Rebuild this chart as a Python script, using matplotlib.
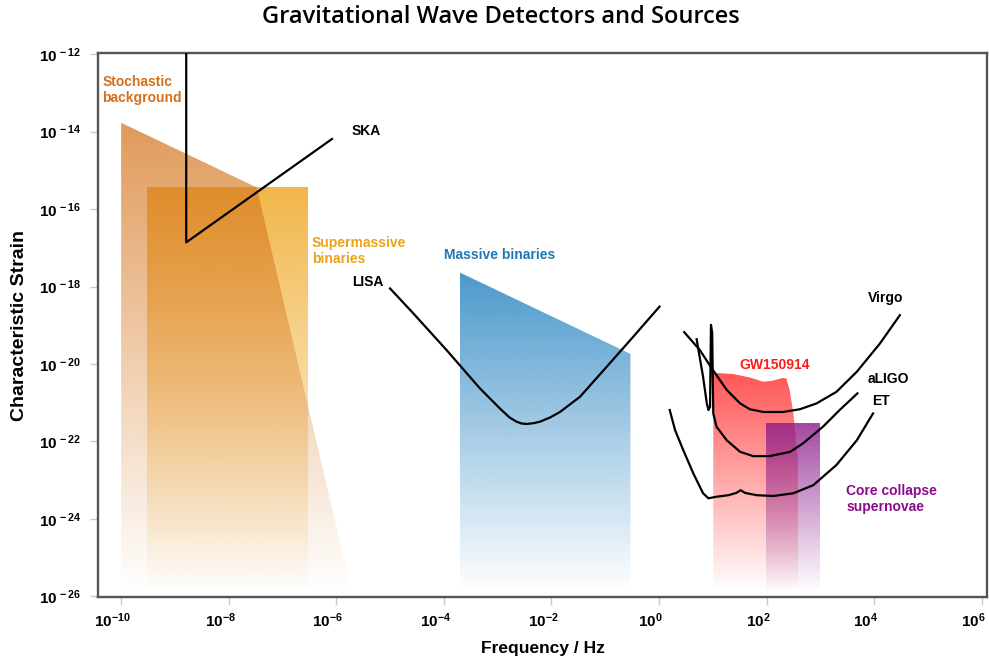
import numpy as np
import matplotlib
matplotlib.use('Agg')
import matplotlib.pyplot as plt
import matplotlib.transforms as mtransforms
from matplotlib.patches import Polygon
from matplotlib.colors import to_rgb

plt.rcParams['font.family'] = 'Liberation Sans'
plt.rcParams['mathtext.fontset'] = 'custom'
plt.rcParams['mathtext.rm'] = 'Liberation Sans:bold'
plt.rcParams['mathtext.it'] = 'Liberation Sans:bold'
plt.rcParams['mathtext.bf'] = 'Liberation Sans:bold'

# all values are log10(frequency / Hz) and log10(strain)
floor = -25.9

stoch_logf = [-10.0, -7.48, -5.71, -10.0]
stoch_logh = [-13.77, -15.44, floor, floor]

smbh_logf = [-9.51, -6.52, -6.52, -9.51]
smbh_logh = [-15.44, -15.44, floor, floor]

massive_logf = [-3.70, -0.53, -0.53, -3.70]
massive_logh = [-17.64, -19.74, floor, floor]

gw_logf = [1.01, 1.38, 1.69, 1.94, 2.12, 2.31, 2.37, 2.43, 2.50, 2.59, 2.59, 1.01]
gw_logh = [-20.23, -20.26, -20.35, -20.46, -20.43, -20.36, -20.38, -20.67, -21.28, -22.56, floor, floor]

sn_logf = [1.99, 3.0, 3.0, 1.99]
sn_logh = [-21.53, -21.53, floor, floor]

ska_logf = [-8.79, -8.79, -6.08]
ska_logh = [-11.5, -16.86, -14.19]

lisa_logf = [-5.0, -4.57, -3.95, -3.33, -2.95, -2.78, -2.65, -2.55, -2.46, -2.33, -2.21, -2.02,
             -1.84, -1.47, -0.97, -0.48, 0.01]
lisa_logh = [-18.05, -18.69, -19.64, -20.63, -21.16, -21.38, -21.49, -21.54, -21.55, -21.53, -21.49,
             -21.38, -21.24, -20.85, -20.07, -19.30, -18.52]

virgo_logf = [0.47, 0.76, 0.98, 1.26, 1.51, 1.69, 1.94, 2.31, 2.62, 2.93, 3.30, 3.68, 4.11, 4.48]
virgo_logh = [-19.18, -19.64, -20.11, -20.67, -21.02, -21.17, -21.24, -21.24, -21.17, -21.02, -20.72, -20.20, -19.47, -18.74]

aligo_logf = [0.70, 0.82, 0.89, 0.92, 0.95, 0.967, 0.99, 1.01, 1.07, 1.26, 1.51, 1.75, 2.06, 2.44, 2.68, 3.05, 3.36, 3.69]
aligo_logh = [-19.36, -20.33, -21.02, -21.19, -21.11, -18.99, -19.20, -21.28, -21.62, -21.97, -22.27, -22.38, -22.38, -22.27, -22.05, -21.62, -21.19, -20.76]

et_logf = [0.20, 0.30, 0.45, 0.64, 0.82, 0.92, 1.07, 1.29, 1.44, 1.52, 1.60, 1.82, 2.13, 2.50, 2.87, 3.30, 3.68, 3.98]
et_logh = [-21.19, -21.71, -22.22, -22.83, -23.34, -23.47, -23.43, -23.39, -23.33, -23.26, -23.33, -23.39, -23.41, -23.34, -23.13, -22.61, -21.97, -21.28]

xticks = [-10, -8, -6, -4, -2, 0, 2, 4, 6]
yticks = [-12, -14, -16, -18, -20, -22, -24, -26]


def gradient_fill(ax, xs, ys, color, a0):
    poly = Polygon(np.column_stack([xs, ys]), closed=True, transform=ax.transData,
                   facecolor='none', edgecolor='none')
    n = 256
    rgba = np.zeros((n, 1, 4))
    rgba[:, 0, :3] = to_rgb(color)
    rgba[:, 0, 3] = np.linspace(a0, 0.0, n)
    im = ax.imshow(rgba, extent=[min(xs), max(xs), min(ys), max(ys)],
                   origin='upper', aspect='auto', interpolation='bilinear', zorder=1)
    im.set_clip_path(poly)


fig = plt.figure(figsize=(9.89, 6.63), dpi=100)
ax = fig.add_axes([0.0991, 0.0995, 0.8989, 0.8205])

gradient_fill(ax, smbh_logf, smbh_logh, '#efaa2a', 0.85)
gradient_fill(ax, stoch_logf, stoch_logh, '#d5731a', 0.72)
gradient_fill(ax, massive_logf, massive_logh, '#1f7fbf', 0.8)
gradient_fill(ax, gw_logf, gw_logh, '#ff3030', 0.82)
gradient_fill(ax, sn_logf, sn_logh, '#8b1a8b', 0.8)

lw = 1.6
for xs, ys in [(ska_logf, ska_logh), (lisa_logf, lisa_logh), (virgo_logf, virgo_logh),
               (aligo_logf, aligo_logh), (et_logf, et_logh)]:
    ax.plot(xs, ys, color='black', lw=lw, solid_joinstyle='round', zorder=3)

fs = 10
ax.text(-10.35, -12.92, 'Stochastic\nbackground', color='#d4701a', fontsize=fs,
        fontweight='bold', ha='left', va='center', linespacing=1.15)
ax.text(-5.71, -13.98, 'SKA', color='black', fontsize=fs, fontweight='bold', ha='left', va='center')
ax.text(-6.45, -17.08, 'Supermassive\nbinaries', color='#e9a31c', fontsize=fs,
        fontweight='bold', ha='left', va='center', linespacing=1.15)
ax.text(-4.0, -17.19, 'Massive binaries', color='#1f78b4', fontsize=fs, fontweight='bold',
        ha='left', va='center')
ax.text(-5.71, -17.88, 'LISA', color='black', fontsize=fs, fontweight='bold', ha='left', va='center')
ax.text(3.885, -18.30, 'Virgo', color='black', fontsize=fs, fontweight='bold', ha='left', va='center')
ax.text(1.49, -20.03, 'GW150914', color='#ff1a1a', fontsize=fs, fontweight='bold', ha='left', va='center')
ax.text(3.885, -20.39, 'aLIGO', color='black', fontsize=fs, fontweight='bold', ha='left', va='center')
ax.text(3.96, -20.96, 'ET', color='black', fontsize=fs, fontweight='bold', ha='left', va='center')
ax.text(3.48, -23.49, 'Core collapse\nsupernovae', color='#8b0c8b', fontsize=fs,
        fontweight='bold', ha='left', va='center', linespacing=1.15)

ax.set_xlim(-10.43, 6.10)
ax.set_ylim(-26.02, -11.97)

ax.set_xticks(xticks)
ax.set_xticklabels(['$10^{%d}$' % t for t in xticks])
ax.set_yticks(yticks)
ax.set_yticklabels(['$10^{\\,%d}$' % t for t in yticks])
ax.tick_params(axis='both', length=6, width=1, color='#c8c8c8', labelsize=11, pad=4)
ax.tick_params(axis='y', pad=6)

shift = mtransforms.ScaledTranslation(-6 / 72, 0, fig.dpi_scale_trans)
for lab in ax.get_xticklabels():
    lab.set_transform(lab.get_transform() + shift)

for s in ax.spines.values():
    s.set_color('#555555')
    s.set_linewidth(1.7)

ax.set_xlabel('Frequency / Hz', fontsize=12.5, fontweight='bold', labelpad=8)
ax.set_ylabel('Characteristic Strain', fontsize=14, fontweight='bold', labelpad=8)

fig.text(0.506, 0.974, 'Gravitational Wave Detectors and Sources', fontsize=17,
         family='Open Sans', fontweight='semibold', ha='center', va='center')

fig.savefig('out.png', dpi=100)
